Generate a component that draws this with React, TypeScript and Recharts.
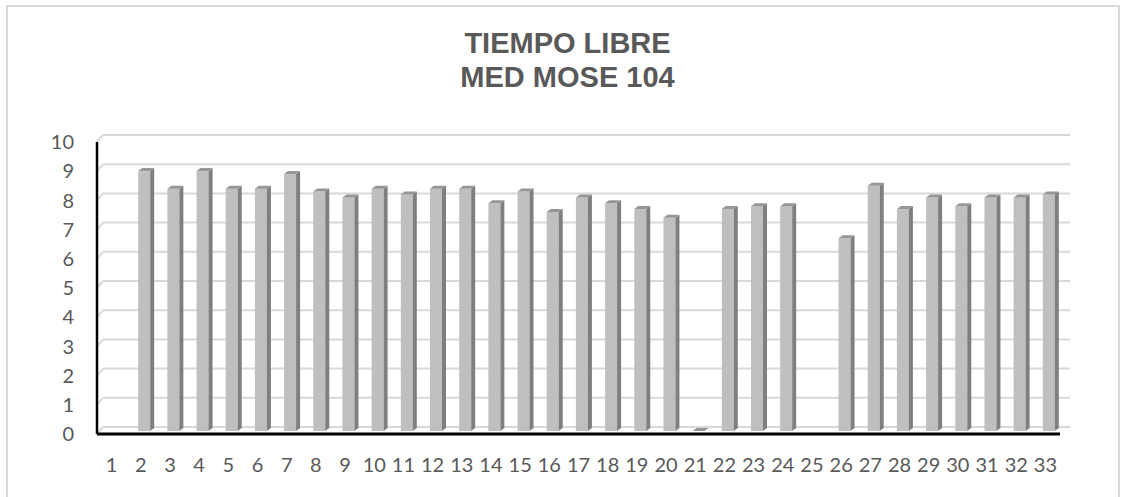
import { BarChart, Bar, XAxis, YAxis, CartesianGrid } from 'recharts';

// categories 1..33, values (null = no bar drawn)
const categories = [
  '1', '2', '3', '4', '5', '6', '7', '8', '9', '10', '11',
  '12', '13', '14', '15', '16', '17', '18', '19', '20', '21', '22',
  '23', '24', '25', '26', '27', '28', '29', '30', '31', '32', '33',
];
const scores: (number | null)[] = [
  null, 8.9, 8.3, 8.9, 8.3, 8.3, 8.8, 8.2, 8.0, 8.3, 8.1,
  8.3, 8.3, 7.8, 8.2, 7.5, 8.0, 7.8, 7.6, 7.3, 0, 7.6,
  7.7, 7.7, null, 6.6, 8.4, 7.6, 8.0, 7.7, 8.0, 8.0, 8.1,
];
const yTicks = [0, 1, 2, 3, 4, 5, 6, 7, 8, 9, 10];

const data = categories.map((c, i) => ({ name: c, value: scores[i] }));

const labelFont = 'Lato, "Open Sans", sans-serif';

// fake 3D column like Excel: front face + right side + top
function Column3D(props: any) {
  const { x, y, width, height, value } = props;
  if (value == null || x == null) return null;
  const fx = x + 3;
  const fy = y - 3;
  const h = Math.max(height, 0);
  const d = 4;
  const up = 3;
  return (
    <g>
      {h > 0 && <rect x={fx} y={fy} width={width} height={h} fill="#BFBFBF" />}
      {h > 0 && (
        <polygon
          points={`${fx + width},${fy} ${fx + width + d},${fy - up} ${fx + width + d},${fy + h - up} ${fx + width},${fy + h}`}
          fill="#7F7F7F"
        />
      )}
      <polygon
        points={`${fx},${fy} ${fx + d},${fy - up} ${fx + width + d},${fy - up} ${fx + width},${fy}`}
        fill="#969696"
      />
    </g>
  );
}

// back-wall gridline, shifted up/right, with a little diagonal to the axis
function BackGridLine(props: any) {
  const { x1, y1, x2, y2, key } = props;
  return (
    <g key={key}>
      <line x1={x1} y1={y1} x2={x1 + 6} y2={y1 - 7} stroke="#D9D9D9" strokeWidth={2} />
      <line x1={x1 + 6} y1={y1 - 7} x2={x2 + 10} y2={y2 - 7} stroke="#D9D9D9" strokeWidth={2} />
    </g>
  );
}

export default function App() {
  return (
    <div style={{ position: 'absolute', left: 0, top: 0, width: 1124, height: 497, background: '#fff', overflow: 'hidden' }}>
      <div
        style={{
          position: 'absolute',
          left: 6,
          top: 5,
          width: 1114,
          height: 520,
          border: '2px solid #D9D9D9',
          boxSizing: 'border-box',
        }}
      />
      <div
        style={{
          position: 'absolute',
          left: 11,
          top: 26,
          width: 1113,
          textAlign: 'center',
          fontFamily: '"Liberation Sans", Arial, sans-serif',
          fontWeight: 'bold',
          fontSize: 29,
          lineHeight: '34px',
          color: '#595959',
        }}
      >
        <div>TIEMPO LIBRE</div>
        <div>MED MOSE 104</div>
      </div>
      <div style={{ position: 'absolute', left: 0, top: 0 }}>
        <BarChart
          width={1124}
          height={497}
          data={data}
          margin={{ top: 142, right: 64, left: 0, bottom: 0 }}
          barSize={12}
        >
          <CartesianGrid vertical={false} horizontal={BackGridLine as any} />
          <XAxis
            dataKey="name"
            height={63}
            interval={0}
            tickSize={0}
            tickMargin={24}
            axisLine={{ stroke: '#000', strokeWidth: 3 }}
            tick={{ fontSize: 20, fill: '#595959', fontFamily: labelFont }}
          />
          <YAxis
            domain={[0, 10]}
            ticks={yTicks}
            width={97}
            interval={0}
            tickSize={0}
            tickMargin={23}
            axisLine={{ stroke: '#000', strokeWidth: 2.5 }}
            tick={{ fontSize: 20, fill: '#595959', fontFamily: labelFont }}
          />
          <Bar dataKey="value" shape={Column3D} isAnimationActive={false} />
        </BarChart>
      </div>
    </div>
  );
}
